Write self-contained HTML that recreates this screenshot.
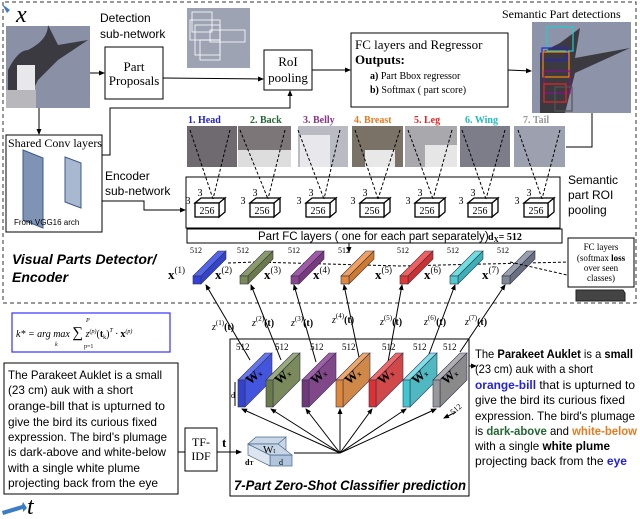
<!DOCTYPE html>
<html><head><meta charset="utf-8"><style>
body{margin:0;background:#fff}
svg{display:block}
.s{font-family:"Liberation Sans",sans-serif}
.r{font-family:"Liberation Serif",serif}
</style></head><body>
<svg width="640" height="519" viewBox="0 0 640 519" xmlns="http://www.w3.org/2000/svg">
<defs>
<marker id="a" markerWidth="6" markerHeight="6" refX="5" refY="3" orient="auto"><path d="M0,0.5L6,3L0,5.5z" fill="#000"/></marker>
</defs>
<path d="M3,2V303H636V2H3" fill="none" stroke="#333" stroke-dasharray="4,3"/>
<path d="M2,4l8,6-3,3z" fill="#3b7dc4"/>
<text x="16" y="22" class="r" font-style="italic" font-size="24">x</text>
<rect x="6" y="26" width="84" height="82" fill="#8a90a6"/>
<path d="M8,108L8,70q10,-20 20,-20q20,-10 20,-25l10,20 30,-5-30,20-20,20-10,20z" fill="#3a3a40"/>
<rect x="17" y="65" width="18" height="25" fill="#e8e8ea"/>
<rect x="6" y="90" width="30" height="18" fill="#b8b8bc"/>
<text x="100" y="22" class="s" font-size="12">Detection</text>
<text x="100" y="38" class="s" font-size="12">sub-network</text>
<rect x="105" y="47" width="58" height="52" fill="#fff" stroke="#000"/>
<text x="134" y="71" class="r" font-size="13" text-anchor="middle">Part</text>
<text x="134" y="85" class="r" font-size="13" text-anchor="middle">Proposals</text>
<line x1="90" y1="73" x2="104" y2="73" stroke="#000" marker-end="url(#a)"/>
<line x1="163" y1="78" x2="263" y2="79" stroke="#000" marker-end="url(#a)"/>
<rect x="187" y="8" width="63" height="60" fill="#9ea3b3"/>
<g fill="none" stroke="#fff" stroke-width="0.8"><rect x="190" y="20" width="30" height="20"/><rect x="195" y="25" width="25" height="30"/><rect x="210" y="30" width="35" height="12"/><rect x="200" y="40" width="20" height="20"/><rect x="192" y="12" width="20" height="20"/></g>
<rect x="264" y="50" width="48" height="40" fill="#fff" stroke="#000"/>
<text x="288" y="66" class="r" font-size="13" text-anchor="middle">RoI</text>
<text x="288" y="82" class="r" font-size="13" text-anchor="middle">pooling</text>
<line x1="312" y1="70" x2="350" y2="70" stroke="#000" marker-end="url(#a)"/>
<rect x="351" y="33" width="157" height="74" fill="#fff" stroke="#000"/>
<text x="355" y="49" class="r" font-size="13">FC layers and Regressor</text>
<text x="355" y="64" class="r" font-size="13" font-weight="bold">Outputs:</text>
<text x="370" y="79" class="r" font-size="10"><tspan font-weight="bold">a)</tspan> Part Bbox regressor</text>
<text x="370" y="93" class="r" font-size="10"><tspan font-weight="bold">b)</tspan> Softmax ( part score)</text>
<line x1="508" y1="70" x2="531" y2="71" stroke="#000" marker-end="url(#a)"/>
<text x="502" y="18" class="r" font-size="12">Semantic Part detections</text>
<rect x="532" y="22" width="99" height="91" fill="#8d93a8"/>
<path d="M540,113l0,-60 20,-10 20,-15 -5,30 55,-10-55,25-10,40z" fill="#3a3a40"/>
<g fill="none" stroke-width="1.2"><rect x="547" y="27" width="26" height="24" stroke="#2cc"/><rect x="542" y="48" width="25" height="12" stroke="#22d"/><rect x="543" y="52" width="26" height="25" stroke="#f80"/><rect x="544" y="71" width="26" height="22" stroke="#818"/><rect x="544" y="84" width="22" height="18" stroke="#e22"/><rect x="555" y="87" width="17" height="24" stroke="#555"/></g>
<polyline points="592,113 592,147 566,147" fill="none" stroke="#000"/>
<line x1="39" y1="108" x2="39" y2="134" stroke="#000" marker-end="url(#a)"/>
<rect x="6" y="135" width="96" height="97" fill="#fff" stroke="#000"/>
<text x="8" y="147" class="r" font-size="12">Shared Conv layers</text>
<path d="M23,150l20,8v70l-20,-8z" fill="#7f93b5" stroke="#3a5a8a"/>
<path d="M65,157l16,6v45l-16,-6z" fill="#a8b8d0" stroke="#3a5a8a"/>
<text x="14" y="225" class="s" font-size="8">From VGG16 arch</text>
<polyline points="102,155 110,155 110,108 290,108 290,91" fill="none" stroke="#000" marker-end="url(#a)"/>
<text x="105" y="180" class="s" font-size="12">Encoder</text>
<text x="105" y="195" class="s" font-size="12">sub-network</text>
<polyline points="102,201 144,201 144,210 185,210" fill="none" stroke="#000" marker-end="url(#a)"/>
<g class="r" font-size="10" font-weight="bold">
<text x="188" y="123" fill="#22c">1. Head</text>
<text x="250" y="123" fill="#263">2. Back</text>
<text x="303" y="123" fill="#838">3. Belly</text>
<text x="354" y="123" fill="#e77a20">4. Breast</text>
<text x="414" y="123" fill="#e22">5. Leg</text>
<text x="465" y="123" fill="#2bb">6. Wing</text>
<text x="523" y="123" fill="#999">7. Tail</text>
</g>
<g>
<rect x="187" y="126" width="50" height="41" fill="#6e6a70"/><rect x="238" y="126" width="53" height="41" fill="#7c7678"/>
<rect x="298" y="126" width="50" height="41" fill="#b9bac2"/><rect x="352" y="126" width="51" height="41" fill="#7a7266"/>
<rect x="405" y="126" width="52" height="41" fill="#a9a8ad"/><rect x="460" y="126" width="50" height="41" fill="#7d7d8a"/>
<rect x="514" y="126" width="51" height="41" fill="#9da0ae"/>
<rect x="238" y="150" width="53" height="17" fill="#ddd"/><rect x="300" y="135" width="30" height="32" fill="#e8e8ec"/><rect x="365" y="150" width="30" height="17" fill="#e8e8e8"/><rect x="425" y="145" width="32" height="22" fill="#e6e6e6"/>
</g>
<rect x="186" y="177" width="374" height="51" fill="#fff" stroke="#000"/>
<g fill="#fff" stroke="#000" stroke-width="1.3">
<path d="M195,203l6,-5h24l-6,5zM219,203l6,-5v14l-6,5z"/><rect x="195" y="203" width="24" height="14"/>
<path d="M250,203l6,-5h24l-6,5zM274,203l6,-5v14l-6,5z"/><rect x="250" y="203" width="24" height="14"/>
<path d="M306,203l6,-5h24l-6,5zM330,203l6,-5v14l-6,5z"/><rect x="306" y="203" width="24" height="14"/>
<path d="M360,203l6,-5h24l-6,5zM384,203l6,-5v14l-6,5z"/><rect x="360" y="203" width="24" height="14"/>
<path d="M415,203l6,-5h24l-6,5zM439,203l6,-5v14l-6,5z"/><rect x="415" y="203" width="24" height="14"/>
<path d="M468,203l6,-5h24l-6,5zM492,203l6,-5v14l-6,5z"/><rect x="468" y="203" width="24" height="14"/>
<path d="M524,203l6,-5h24l-6,5zM548,203l6,-5v14l-6,5z"/><rect x="524" y="203" width="24" height="14"/>
</g>
<g class="r" font-size="10" text-anchor="middle">
<text x="207" y="214">256</text><text x="262" y="214">256</text><text x="318" y="214">256</text><text x="372" y="214">256</text><text x="427" y="214">256</text><text x="480" y="214">256</text><text x="536" y="214">256</text>
<text x="188" y="204">3</text><text x="243" y="204">3</text><text x="299" y="204">3</text><text x="353" y="204">3</text><text x="408" y="204">3</text><text x="461" y="204">3</text><text x="517" y="204">3</text>
<text x="200" y="196">3</text><text x="255" y="196">3</text><text x="311" y="196">3</text><text x="365" y="196">3</text><text x="420" y="196">3</text><text x="473" y="196">3</text><text x="529" y="196">3</text>
</g>
<g stroke="#000" stroke-dasharray="3,2" fill="none">
<path d="M190,130L213,199M230,130L213,199M240,130L268,199M285,130L268,199M298,130L324,199M340,130L324,199M355,130L378,199M400,130L378,199M408,130L433,199M452,130L433,199M462,130L486,199M505,130L486,199M518,130L542,199M560,130L542,199"/>
</g>
<text x="568" y="184" class="s" font-size="12">Semantic</text>
<text x="568" y="199" class="s" font-size="12">part ROI</text>
<text x="568" y="214" class="s" font-size="12">pooling</text>
<rect x="187" y="229" width="375" height="14" fill="#fff" stroke="#000"/>
<text x="258" y="240" class="s" font-size="11.5">Part FC layers ( one for each  part separately)</text>
<text x="488" y="240" class="r" font-size="10" font-weight="bold">d<tspan font-size="7" dy="2">X</tspan><tspan dy="-2">= 512</tspan></text>
<line x1="349" y1="243" x2="349" y2="252" stroke="#000" marker-end="url(#a)"/>
<path d="M228,263L255,262L400,266L570,262" fill="none" stroke="#000" stroke-dasharray="3,2"/>
<g stroke="#334" stroke-width="0.6">
<g><path d="M193,276l25,-25h8l-25,25z" fill="#5566ee"/><path d="M201,276l25,-25v8l-25,25z" fill="#3344cc"/><rect x="193" y="276" width="8" height="8" fill="#3340dd"/></g>
<g><path d="M240,276l25,-25h8l-25,25z" fill="#8a9a6a"/><path d="M248,276l25,-25v8l-25,25z" fill="#6a7a4a"/><rect x="240" y="276" width="8" height="8" fill="#7a8a58"/></g>
<g><path d="M291,276l25,-25h8l-25,25z" fill="#a05aa8"/><path d="M299,276l25,-25v8l-25,25z" fill="#7a3a80"/><rect x="291" y="276" width="8" height="8" fill="#8a4590"/></g>
<g><path d="M341,276l25,-25h8l-25,25z" fill="#f0a060"/><path d="M349,276l25,-25v8l-25,25z" fill="#d07a30"/><rect x="341" y="276" width="8" height="8" fill="#e08840"/></g>
<g><path d="M400,276l25,-25h8l-25,25z" fill="#f06060"/><path d="M408,276l25,-25v8l-25,25z" fill="#cc3030"/><rect x="400" y="276" width="8" height="8" fill="#e03838"/></g>
<g><path d="M450,276l25,-25h8l-25,25z" fill="#70dde0"/><path d="M458,276l25,-25v8l-25,25z" fill="#3ab0b8"/><rect x="450" y="276" width="8" height="8" fill="#50c8d0"/></g>
<g><path d="M502,276l25,-25h8l-25,25z" fill="#9aa0b0"/><path d="M510,276l25,-25v8l-25,25z" fill="#6a7080"/><rect x="502" y="276" width="8" height="8" fill="#808898"/></g>
</g>
<g class="r" font-size="8"><text x="190" y="253">512</text><text x="237" y="253">512</text><text x="288" y="253">512</text><text x="338" y="253">512</text><text x="397" y="253">512</text><text x="447" y="253">512</text><text x="497" y="253">512</text></g>
<g class="r" font-size="13" font-weight="bold">
<text x="168" y="279">x<tspan font-size="9" font-weight="normal" dy="-6">(1)</tspan></text>
<text x="215" y="279">x<tspan font-size="9" font-weight="normal" dy="-6">(2)</tspan></text>
<text x="264" y="279">x<tspan font-size="9" font-weight="normal" dy="-6">(3)</tspan></text>
<text x="313" y="279">x<tspan font-size="9" font-weight="normal" dy="-6">(4)</tspan></text>
<text x="375" y="279">x<tspan font-size="9" font-weight="normal" dy="-6">(5)</tspan></text>
<text x="424" y="279">x<tspan font-size="9" font-weight="normal" dy="-6">(6)</tspan></text>
<text x="482" y="279">x<tspan font-size="9" font-weight="normal" dy="-6">(7)</tspan></text>
</g>
<path d="M510,262L567,275" stroke="#000" stroke-dasharray="3,2"/>
<rect x="568" y="238" width="66" height="49" fill="#fff" stroke="#000"/>
<g class="r" font-size="9" text-anchor="middle"><text x="601" y="250">FC layers</text><text x="601" y="261">(softmax <tspan font-weight="bold">loss</tspan></text><text x="601" y="271">over seen</text><text x="601" y="281">classes)</text></g>
<path d="M576,290h47l2,3v8h-49z" fill="#444" stroke="#222"/>
<text x="12" y="264" class="s" font-size="14" font-weight="bold" font-style="italic">Visual Parts Detector/</text>
<text x="12" y="282" class="s" font-size="14" font-weight="bold" font-style="italic">Encoder</text>
<rect x="12" y="313" width="158" height="39" fill="#fff" stroke="#33f" stroke-width="1.2"/>
<text x="16" y="337" class="r" font-size="10" font-style="italic">k* = arg max <tspan font-size="15" font-style="normal">∑</tspan> z<tspan font-size="6" dy="-4">(p)</tspan><tspan dy="4" font-style="normal">(<tspan font-weight="bold">t</tspan><tspan font-size="6" dy="2">k</tspan><tspan dy="-2">)</tspan></tspan><tspan font-size="6" dy="-5">T</tspan><tspan dy="5"> · </tspan><tspan font-weight="bold" font-style="normal">x</tspan><tspan font-size="6" dy="-4">(p)</tspan></text>
<text x="55" y="346" class="r" font-size="6" font-style="italic">k</text>
<text x="84" y="348" class="r" font-size="6">p=1</text><text x="86" y="322" class="r" font-size="6" font-style="italic">P</text>
<g stroke="#000" marker-end="url(#a)">
<line x1="250" y1="360" x2="206" y2="285"/><line x1="281" y1="360" x2="251" y2="285"/><line x1="316" y1="362" x2="294" y2="285"/>
<line x1="360" y1="362" x2="344" y2="285"/><line x1="388" y1="362" x2="402" y2="285"/><line x1="426" y1="362" x2="455" y2="285"/><line x1="460" y1="352" x2="505" y2="285"/>
</g>
<g class="r" font-size="10" fill="#000">
<text x="212" y="330"><tspan font-style="italic">z</tspan><tspan font-size="7" dy="-5">(1)</tspan><tspan dy="5" font-weight="bold">(t)</tspan></text>
<text x="252" y="326"><tspan font-style="italic">z</tspan><tspan font-size="7" dy="-5">(2)</tspan><tspan dy="5" font-weight="bold">(t)</tspan></text>
<text x="291" y="326"><tspan font-style="italic">z</tspan><tspan font-size="7" dy="-5">(3)</tspan><tspan dy="5" font-weight="bold">(t)</tspan></text>
<text x="332" y="323"><tspan font-style="italic">z</tspan><tspan font-size="7" dy="-5">(4)</tspan><tspan dy="5" font-weight="bold">(t)</tspan></text>
<text x="380" y="325"><tspan font-style="italic">z</tspan><tspan font-size="7" dy="-5">(5)</tspan><tspan dy="5" font-weight="bold">(t)</tspan></text>
<text x="424" y="325"><tspan font-style="italic">z</tspan><tspan font-size="7" dy="-5">(6)</tspan><tspan dy="5" font-weight="bold">(t)</tspan></text>
<text x="465" y="325"><tspan font-style="italic">z</tspan><tspan font-size="7" dy="-5">(7)</tspan><tspan dy="5" font-weight="bold">(t)</tspan></text>
</g>
<rect x="230" y="339" width="239" height="157" fill="none" stroke="#000"/>
<g class="r" font-size="9"><text x="236" y="350">512</text><text x="275" y="350">512</text><text x="310" y="350">512</text><text x="342" y="350">512</text><text x="382" y="350">512</text><text x="413" y="350">512</text><text x="443" y="350">512</text></g>
<g stroke="#335" stroke-width="0.6" class="r">
<g><path d="M238,380l27,-27h7l-27,27z" fill="#6677ee"/><path d="M245,380l27,-27v27l-27,27z" fill="#4455dd"/><rect x="238" y="380" width="7" height="27" fill="#3344cc"/></g>
<g><path d="M266,380l27,-27h7l-27,27z" fill="#9aaa7a"/><path d="M273,380l27,-27v27l-27,27z" fill="#7a8a5a"/><rect x="266" y="380" width="7" height="27" fill="#6a7a4a"/></g>
<g><path d="M302,380l27,-27h7l-27,27z" fill="#a060a8"/><path d="M309,380l27,-27v27l-27,27z" fill="#804888"/><rect x="302" y="380" width="7" height="27" fill="#703878"/></g>
<g><path d="M336,380l27,-27h7l-27,27z" fill="#f0a868"/><path d="M343,380l27,-27v27l-27,27z" fill="#d08848"/><rect x="336" y="380" width="7" height="27" fill="#e08838"/></g>
<g><path d="M369,380l27,-27h7l-27,27z" fill="#f06868"/><path d="M376,380l27,-27v27l-27,27z" fill="#d04848"/><rect x="369" y="380" width="7" height="27" fill="#e03030"/></g>
<g><path d="M403,380l27,-27h7l-27,27z" fill="#80e0e8"/><path d="M410,380l27,-27v27l-27,27z" fill="#50b8c0"/><rect x="403" y="380" width="7" height="27" fill="#40c8d0"/></g>
<g><path d="M433,380l27,-27h7l-27,27z" fill="#b0b0b0"/><path d="M440,380l27,-27v27l-27,27z" fill="#8a8a8a"/><rect x="433" y="380" width="7" height="27" fill="#999"/></g>
</g>
<g class="r" font-size="13" font-weight="bold">
<text x="250" y="385" transform="rotate(-40 250 385)">W<tspan font-size="7">x</tspan></text>
<text x="279" y="385" transform="rotate(-40 279 385)">W<tspan font-size="7">x</tspan></text>
<text x="315" y="385" transform="rotate(-40 315 385)">W<tspan font-size="7">x</tspan></text>
<text x="349" y="385" transform="rotate(-40 349 385)">W<tspan font-size="7">x</tspan></text>
<text x="382" y="385" transform="rotate(-40 382 385)">W<tspan font-size="7">x</tspan></text>
<text x="416" y="385" transform="rotate(-40 416 385)">W<tspan font-size="7">x</tspan></text>
<text x="446" y="385" transform="rotate(-40 446 385)">W<tspan font-size="7">x</tspan></text>
</g>
<text x="231" y="398" class="r" font-size="8">d</text>
<line x1="235" y1="382" x2="235" y2="406" stroke="#000"/>
<text x="453" y="415" class="r" font-size="8" transform="rotate(-40 453 415)">512</text>
<line x1="456" y1="412" x2="444" y2="418" stroke="#000" marker-end="url(#a)"/>
<g stroke="#000" marker-end="url(#a)">
<line x1="340" y1="453" x2="242" y2="409"/><line x1="340" y1="453" x2="271" y2="409"/><line x1="340" y1="453" x2="306" y2="409"/><line x1="340" y1="453" x2="340" y2="409"/><line x1="340" y1="453" x2="372" y2="409"/><line x1="340" y1="453" x2="406" y2="409"/><line x1="340" y1="453" x2="436" y2="409"/>
</g>
<line x1="294" y1="453" x2="340" y2="453" stroke="#000"/>
<path d="M248,444l8,-7h30l-8,7zM278,444l8,-7v22l-8,7z" fill="#c8d6e8" stroke="#4a6a8a" stroke-width="0.7"/>
<rect x="270" y="455" width="22" height="11" fill="#b0c4dc" stroke="#4a6a8a" stroke-width="0.7"/>
<path d="M248,444l22,11v11l-22,-11z" fill="#dde6f0" stroke="#4a6a8a" stroke-width="0.7"/>
<path d="M248,444h30l14,11h-22z" fill="#c8d6e8" stroke="#4a6a8a" stroke-width="0.7"/>
<text x="263" y="453" class="r" font-size="11">W<tspan font-size="7">t</tspan></text>
<text x="279" y="465" class="r" font-size="8">d</text>
<text x="245" y="465" class="r" font-size="8" font-weight="bold">d<tspan font-size="6">T</tspan></text>
<text x="234" y="490" class="s" font-size="14" font-weight="bold" font-style="italic" textLength="232" lengthAdjust="spacingAndGlyphs">7-Part Zero-Shot Classifier prediction</text>
<line x1="469" y1="366" x2="476" y2="366" stroke="#000" marker-end="url(#a)"/>
<rect x="185" y="428" width="32" height="43" fill="#fff" stroke="#000"/>
<text x="201" y="446" class="r" font-size="12" text-anchor="middle">TF-</text>
<text x="201" y="460" class="r" font-size="12" text-anchor="middle">IDF</text>
<line x1="178" y1="452" x2="185" y2="452" stroke="#000"/>
<line x1="217" y1="452" x2="241" y2="452" stroke="#000" marker-end="url(#a)"/>
<text x="222" y="447" class="r" font-size="13" font-weight="bold">t</text>
<rect x="4" y="363" width="174" height="131" fill="#fff" stroke="#000"/>
<g class="s" font-size="12" lengthAdjust="spacingAndGlyphs">
<text x="8" y="379" textLength="154" lengthAdjust="spacingAndGlyphs">The Parakeet Auklet  is a small</text>
<text x="8" y="394" textLength="125" lengthAdjust="spacingAndGlyphs">(23 cm) auk with a short</text>
<text x="8" y="410" textLength="157" lengthAdjust="spacingAndGlyphs">orange-bill  that is upturned  to</text>
<text x="8" y="426" textLength="149" lengthAdjust="spacingAndGlyphs">give the bird its curious  fixed</text>
<text x="8" y="441" textLength="159" lengthAdjust="spacingAndGlyphs">expression.  The bird's plumage</text>
<text x="8" y="456" textLength="158" lengthAdjust="spacingAndGlyphs">is dark-above  and white-below</text>
<text x="8" y="472" textLength="132" lengthAdjust="spacingAndGlyphs">with a single  white plume</text>
<text x="8" y="487" textLength="150" lengthAdjust="spacingAndGlyphs">projecting  back from the eye</text>
</g>
<path d="M2,511l20,-6 1,-3 4,6-4,4 0,-3-20,6z" fill="#3b7dc4"/>
<text x="27" y="514" class="r" font-style="italic" font-size="24">t</text>
<g class="s" font-size="12">
<text x="475" y="358" textLength="158" lengthAdjust="spacingAndGlyphs">The <tspan font-weight="bold">Parakeet Auklet</tspan> is a <tspan font-weight="bold">small</tspan></text>
<text x="475" y="373" textLength="118" lengthAdjust="spacingAndGlyphs">(23 cm) auk with a short</text>
<text x="475" y="389" textLength="160" lengthAdjust="spacingAndGlyphs"><tspan fill="#22d" font-weight="bold">orange-bill</tspan> that is upturned  to</text>
<text x="475" y="404" textLength="150" lengthAdjust="spacingAndGlyphs">give the bird its curious  fixed</text>
<text x="475" y="420" textLength="160" lengthAdjust="spacingAndGlyphs">expression.  The bird's plumage</text>
<text x="475" y="435" textLength="162" lengthAdjust="spacingAndGlyphs">is <tspan fill="#263" font-weight="bold">dark-above</tspan> and <tspan fill="#e77a20" font-weight="bold">white-below</tspan></text>
<text x="475" y="450" textLength="135" lengthAdjust="spacingAndGlyphs">with a single <tspan font-weight="bold">white plume</tspan></text>
<text x="475" y="465" textLength="152" lengthAdjust="spacingAndGlyphs">projecting  back from the <tspan fill="#22d" font-weight="bold">eye</tspan></text>
</g>
</svg>
</body></html>
